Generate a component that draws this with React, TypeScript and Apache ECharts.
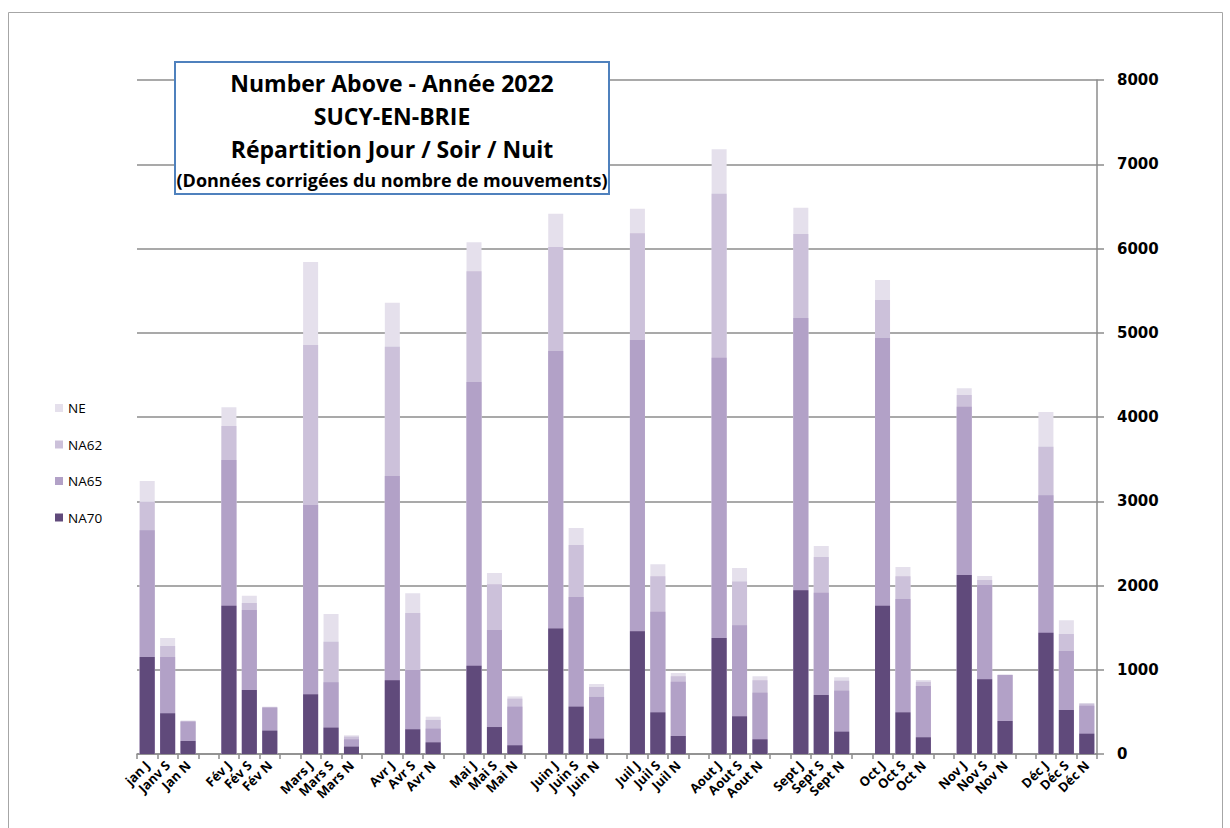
import { useEffect, useRef } from "react";
import * as echarts from "echarts";

const categories = [
  "jan J", "Janv S", "Jan N", "",
  "Fév J", "Fév S", "Fév N", "",
  "Mars J", "Mars S", "Mars N", "",
  "Avr J", "Avr S", "Avr N", "",
  "Mai J", "Mai S", "Mai N", "",
  "Juin J", "Juin S", "Juin N", "",
  "Juil J", "Juil S", "Juil N", "",
  "Aout J", "Aout S", "Aout N", "",
  "Sept J", "Sept S", "Sept N", "",
  "Oct J", "Oct S", "Oct N", "",
  "Nov J", "Nov S", "Nov N", "",
  "Déc J", "Déc S", "Déc N",
];

// Cumulative "number above" counts (each includes the stricter thresholds)
const NA70 = [1151, 483, 154, null, 1760, 760, 277, null, 708, 313, 87, null, 874, 293, 138, null, 1048, 320, 103, null, 1491, 562, 182, null, 1456, 494, 214, null, 1377, 447, 174, null, 1943, 700, 265, null, 1761, 494, 198, null, 2125, 886, 392, null, 1440, 522, 241];
const NA65 = [2655, 1151, 384, null, 3490, 1709, 550, null, 2955, 851, 174, null, 3300, 997, 301, null, 4415, 1472, 562, null, 4783, 1864, 677, null, 4914, 1689, 858, null, 4704, 1527, 728, null, 5175, 1915, 752, null, 4938, 1840, 807, null, 4123, 2006, 938, null, 3070, 1223, 573];
const NA62 = [2995, 1282, 392, null, 3893, 1792, 557, null, 4855, 1333, 206, null, 4835, 1674, 404, null, 5729, 2014, 657, null, 6018, 2481, 795, null, 6180, 2109, 922, null, 6651, 2046, 874, null, 6172, 2338, 870, null, 5389, 2109, 858, null, 4261, 2065, 940, null, 3648, 1424, 597];
const NE = [3240, 1377, 398, null, 4115, 1879, 562, null, 5840, 1662, 222, null, 5357, 1907, 443, null, 6075, 2148, 684, null, 6413, 2683, 831, null, 6473, 2251, 961, null, 7177, 2208, 922, null, 6483, 2469, 910, null, 5626, 2220, 878, null, 4340, 2113, 942, null, 4059, 1587, 605];

const yTicks = { min: 0, max: 8000, interval: 1000 };

const titleLines = [
  "Number Above - Année 2022",
  "SUCY-EN-BRIE",
  "Répartition Jour / Soir / Nuit",
  "(Données corrigées du nombre de mouvements)",
];

const colors = { NE: "#e5e0ec", NA62: "#ccc1da", NA65: "#b2a1c7", NA70: "#604a7b" };

export default function App() {
  const ref = useRef<HTMLDivElement>(null);
  useEffect(() => {
    document.body.style.margin = "0";
    const chart = echarts.init(ref.current!, null, { renderer: "svg" });
    const bar = (name: string, data: (number | null)[], color: string) => ({
      name,
      type: "bar",
      data,
      barWidth: 15,
      barGap: "-100%",
      itemStyle: { color },
      emphasis: { disabled: true },
    });
    chart.setOption({
      animation: false,
      backgroundColor: "#ffffff",
      grid: { left: 137, top: 80, width: 960, height: 674 },
      legend: {
        orient: "vertical",
        left: 50,
        top: 396,
        itemWidth: 8,
        itemHeight: 8,
        itemGap: 22.5,
        icon: "rect",
        data: ["NE", "NA62", "NA65", "NA70"],
        textStyle: { fontFamily: "Open Sans", fontSize: 13.5, color: "#000" },
      },
      xAxis: {
        type: "category",
        data: categories,
        axisLine: { lineStyle: { color: "#8c8c8c", width: 1.5 } },
        axisTick: { show: true, interval: 0, length: 5, lineStyle: { color: "#8c8c8c", width: 1.5 } },
        axisLabel: {
          interval: 0,
          rotate: 45,
          margin: 9,
          fontFamily: "Open Sans",
          fontWeight: "bold",
          fontSize: 13,
          color: "#000",
        },
      },
      yAxis: {
        type: "value",
        position: "right",
        min: yTicks.min,
        max: yTicks.max,
        interval: yTicks.interval,
        axisLine: { show: true, lineStyle: { color: "#8c8c8c", width: 1.5 } },
        axisTick: { show: true, length: 7, lineStyle: { color: "#8c8c8c", width: 1.5 } },
        splitLine: { show: true, lineStyle: { color: "#8c8c8c", width: 1.5 } },
        axisLabel: {
          margin: 20,
          fontFamily: "DejaVu Sans",
          fontWeight: "bold",
          fontSize: 15,
          color: "#000",
          formatter: (v: number) => String(v),
        },
      },
      series: [
        bar("NE", NE, colors.NE),
        bar("NA62", NA62, colors.NA62),
        bar("NA65", NA65, colors.NA65),
        bar("NA70", NA70, colors.NA70),
      ],
      graphic: [
        {
          type: "rect",
          z: 100,
          shape: { x: 8.5, y: 12.5, width: 1214, height: 840 },
          style: { fill: "none", stroke: "#a6a6a6", lineWidth: 1 },
          silent: true,
        },
        {
          type: "rect",
          z: 100,
          shape: { x: 175, y: 62, width: 434, height: 132 },
          style: { fill: "#ffffff", stroke: "#4f81bd", lineWidth: 2 },
        },
        ...titleLines.map((t, i) => ({
          type: "text",
          z: 101,
          x: 392,
          y: [83, 116, 149, 180][i],
          style: {
            text: t,
            fill: "#000",
            font: `bold ${i === 3 ? 18 : 23}px "Open Sans"`,
            textAlign: "center",
            textVerticalAlign: "middle",
          },
        })),
      ],
    });
    return () => chart.dispose();
  }, []);
  return <div ref={ref} style={{ width: 1230, height: 828 }} />;
}
